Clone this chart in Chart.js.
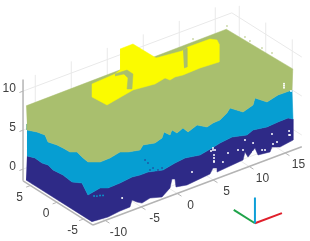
<!DOCTYPE html>
<html>
<head>
<meta charset="utf-8">
<style>
    html, body { margin: 0; padding: 0; background: #fff; }
    canvas { display: block; }
</style>
<script src="https://cdn.jsdelivr.net/npm/chart.js@4"></script>
</head>
<body>
<canvas id="cloudChart" width="310" height="241"></canvas>
<script>
// Tick labels of the three axes
const xTicks = [-10, -5, 0, 5, 10, 15];
const yTicks = [-5, 0, 5];
const zTicks = [0, 5, 10];

// Olive layer: lower edge on the side face (x = -12) and front face (y = -7)
const oliveSideY = [5.25, 5.25, 3.36, 1.85, 1.28, -0.42, -1.55, -2.87, -4.19, -5.13, -6.26];
const oliveSideZ = [6.39, 5.62, 6.17, 6.44, 5.78, 6.13, 6.23, 6.28, 6.85, 6.62, 6.46];
const oliveFrontX = [-10.87, -9.49, -8.1, -6.99, -5.32, -4.9, -3.24, -2.26, -1.99, -1.15, -0.88, -0.18, 0.65, 1.35, 2.6, 3.99, 4.82, 5.79, 6.76, 7.18, 8.99, 10.38, 10.65, 12.32, 13.85, 15.79];
const oliveFrontZ = [6.38, 6.42, 6.7, 6.32, 6.0, 6.5, 6.18, 6.49, 7.15, 6.49, 7.03, 6.4, 6.76, 6.0, 6.46, 5.73, 5.95, 6.0, 6.56, 7.06, 5.92, 6.33, 7.14, 6.05, 6.42, 6.38];
// Top surface corners
const topCornerX = [15.9, 15.8, -12];
const topCornerY = [-7, 5.4, 5.4];
const topCornerZ = [9.05, 8.85, 8.65];

// Navy layer: upper edge
const navyTopSideY = [5.25, 3.74, 2.42, 1.28, 0.34, -1.55, -3.25, -5.13, -6.26];
const navyTopSideZ = [2.29, 2.68, 2.6, 2.83, 2.6, 2.77, 2.6, 3.28, 2.23];
const navyTopFrontX = [-10.87, -9.76, -8.1, -6.43, -5.32, -4.21, -2.13, -0.46, 0.93, 3.01, 4.68, 5.79, 7.46, 9.54, 10.38, 12.32, 13.85, 15.24, 15.93];
const navyTopFrontZ = [3.05, 2.67, 2.73, 2.92, 2.79, 2.79, 2.33, 2.65, 2.81, 2.47, 2.79, 3.05, 3.24, 2.78, 3.13, 2.85, 2.96, 2.99, 2.61];
// Navy layer: lower edge
const navyLowSideY = [5.43];
const navyLowSideZ = [-0.88];
const navyLowFrontX = [-12, -9.76, -8.1, -6.71, -6.43, -5.74, -5.04, -3.93, -2.26, -1.15, -0.88, -0.46, -0.32, 1.21, 4.4, 4.82, 5.38, 5.38, 8.99, 9.26, 9.68, 10.65, 11.07, 12.74, 13.01, 14.12, 15.93];
const navyLowFrontZ = [-0.87, -1.05, -0.86, -0.82, -0.03, -0.53, -0.9, -0.64, -1.08, -0.31, 0.74, 0.6, -0.47, -0.74, -0.44, 0.18, -0.01, -0.53, -0.23, 0.69, -0.09, 0.73, -0.31, -0.5, 0.04, -0.35, -0.08];

// Yellow block, on the plane y = 5
const yellowX = [0.74, 2.54, 5.74, 9.35, 10.18, 13.24, 14.21, 14.49, 14.49, 11.85, 9.49, 8.38, 7.68, 6.99, 5.6, 2.54, -1.07, -3.15, -3.15, 0.04, 0.74];
const yellowZ = [11.7, 11.72, 8.82, 8.46, 8.69, 8.65, 8.19, 7.58, 5.27, 5.42, 5.34, 5.47, 5.32, 5.82, 5.53, 5.82, 5.15, 6.89, 8.56, 8.74, 9.01];
// Olive gaps seen through the yellow block
const hookX = [0.04, 1.71, 2.54, 2.4, 1.71, 1.85, 1.29, 0.04];
const hookZ = [8.74, 8.67, 7.87, 6.0, 6.24, 7.6, 8.3, 8.48];
const slitX = [9.49, 10.04, 10.04, 9.63];
const slitZ = [8.54, 8.61, 6.17, 6.19];

// Loose points
const holeX = [13.01, 9.26, 10.38, 13.15, 13.71, 15.51, 11.63, 12.04, 10.38, 8.99, 6.9, 5.1, 4.96, 1.9, 6.2, -7.8, 14.68, 14.68, 14.68, 15.65, 4.82, 4.82, 4.54, 4.96, 4.96, 4.96, 15.38, 15.38, 8.29];
const holeZ = [1.71, 2.23, 1.46, 0.37, 0.44, 0.72, 0.14, 0, 0.31, 1.05, 1.38, 2.4, 0.91, 0.68, 0.47, 0.7, 7.3, 7.56, 7.05, 6.3, 2.74, 2.49, 2.46, 1.81, 1.42, 1.04, 1.27, 0.76, 1.29];
const navySpeckX = [-4.21, -3.51, -2.82, -2.26, -3.93, -4.62];
const navySpeckZ = [3.95, 3.06, 2.58, 2.64, 2.95, 4.47];
const blueSpeckX = [-11.7, -11.3, -10.87, -10.45];
const blueSpeckZ = [2.31, 2.17, 2.09, 1.95];
const oliveSpeckX = [15.89, 11.17, 15.9, 15.9, 15.9, 15.9];
const oliveSpeckY = [5.4, 5.4, 2.02, 1.08, -1.19, -3.08];
const oliveSpeckZ = [9.23, 9.2, 9.27, 9.17, 9.24, 9.41];

// Orientation triad: origin and arm lengths
const triadOrigin = [2.4, -18.2, -1.25];
const triadLengths = [3.75, 4, 3.3];

// Axis box limits
const xMin = -11.7, xMax = 17.3;
const yMin = -6.8, yMax = 6.4;
const zMin = -1.5, zMax = 11.5;

// View projection of the 3D axes onto the flat chart plane
function project(x, y, z) {
    return {
        x: 141.2 + 7.2 * x - 5.3 * y,
        y: 159 - 2.7 * x - 3.35 * y - 7.8 * z
    };
}

function onFront(xs, zs) {
    return xs.map(function (x, i) { return project(x, -7, zs[i]); });
}

function onSide(ys, zs) {
    return ys.map(function (y, i) { return project(-12, y, zs[i]); });
}

function onPlane(xs, zs) {
    return xs.map(function (x, i) { return project(x, 5, zs[i]); });
}

function polygon(points, color) {
    return {
        data: points,
        showLine: true,
        fill: 'shape',
        backgroundColor: color,
        borderColor: color,
        borderWidth: 0.5,
        pointRadius: 0,
        tension: 0
    };
}

function segment(from, to, color, width) {
    return {
        data: [project(from[0], from[1], from[2]), project(to[0], to[1], to[2])],
        showLine: true,
        fill: false,
        borderColor: color,
        borderWidth: width,
        pointRadius: 0
    };
}

function dots(points, color, radius) {
    return {
        data: points,
        showLine: false,
        backgroundColor: color,
        borderWidth: 0,
        pointRadius: radius
    };
}

const gridColor = '#e9e9e9';
const axisColor = '#b4b4b4';
const oliveColor = '#a9bf6e';
const blueColor = '#069ed2';
const navyColor = '#2e2a87';
const yellowColor = '#fbfb00';

const oliveEdge = onSide(oliveSideY, oliveSideZ).concat(onFront(oliveFrontX, oliveFrontZ));
const navyTop = onSide(navyTopSideY, navyTopSideZ).concat(onFront(navyTopFrontX, navyTopFrontZ));
const navyLow = onSide(navyLowSideY, navyLowSideZ).concat(onFront(navyLowFrontX, navyLowFrontZ));
const topCorners = topCornerX.map(function (x, i) { return project(x, topCornerY[i], topCornerZ[i]); });

// Back to front
const layers = [];

xTicks.forEach(function (x) {
    layers.push(segment([x, yMax, zMin], [x, yMax, zMax], gridColor, 1));
    layers.push(segment([x, yMin, zMin], [x, yMax, zMin], gridColor, 1));
});
yTicks.forEach(function (y) {
    layers.push(segment([xMax, y, zMin], [xMax, y, zMax], gridColor, 1));
    layers.push(segment([xMin, y, zMin], [xMax, y, zMin], gridColor, 1));
});
zTicks.forEach(function (z) {
    layers.push(segment([xMin, yMax, z], [xMax, yMax, z], gridColor, 1));
    layers.push(segment([xMax, yMax, z], [xMax, yMin, z], gridColor, 1));
});

layers.push(segment([xMin, yMax, zMin], [xMin, yMax, zMax], axisColor, 1.5));
layers.push(segment([xMin, yMax, zMin], [xMin, yMin, zMin], axisColor, 1.5));
layers.push(segment([xMin, yMin, zMin], [xMax, yMin, zMin], axisColor, 1.5));
xTicks.forEach(function (x) {
    layers.push(segment([x, yMin, zMin], [x, yMin - 0.8, zMin], axisColor, 1));
});
yTicks.forEach(function (y) {
    layers.push(segment([xMin, y, zMin], [xMin - 0.6, y, zMin], axisColor, 1));
});
zTicks.forEach(function (z) {
    layers.push(segment([xMin, yMax, z], [xMin - 0.5, yMax, z], axisColor, 1));
});

layers.push(polygon(navyTop.concat(navyLow.slice().reverse()), navyColor));
layers.push(polygon(oliveEdge.concat(navyTop.slice().reverse()), blueColor));
layers.push(polygon(oliveEdge.concat(topCorners), oliveColor));
layers.push(dots(onFront(holeX, holeZ), '#ffffff', 1));
layers.push(dots(onFront(navySpeckX, navySpeckZ), navyColor, 0.8));
layers.push(dots(onFront(blueSpeckX, blueSpeckZ), blueColor, 0.9));
layers.push(dots(oliveSpeckX.map(function (x, i) { return project(x, oliveSpeckY[i], oliveSpeckZ[i]); }), oliveColor, 0.8));
layers.push(polygon(onPlane(yellowX, yellowZ), yellowColor));
layers.push(polygon(onPlane(hookX, hookZ), oliveColor));
layers.push(polygon(onPlane(slitX, slitZ), oliveColor));

const ox = triadOrigin[0], oy = triadOrigin[1], oz = triadOrigin[2];
layers.push(segment(triadOrigin, [ox + triadLengths[0], oy, oz], '#e01f2b', 2));
layers.push(segment(triadOrigin, [ox, oy + triadLengths[1], oz], '#1fa34a', 2));
layers.push(segment(triadOrigin, [ox, oy, oz + triadLengths[2]], '#0d9fd8', 2));

// Tick labels go through the same scales as the marks
const tickLabels = {
    id: 'tickLabels',
    afterDraw: function (chart) {
        const ctx = chart.ctx;
        const sx = chart.scales.x, sy = chart.scales.y;
        function put(point, text, align) {
            ctx.textAlign = align;
            ctx.fillText(text, sx.getPixelForValue(point.x), sy.getPixelForValue(point.y));
        }
        ctx.save();
        ctx.font = '12px "Liberation Sans", Arial, sans-serif';
        ctx.fillStyle = '#404040';
        ctx.textBaseline = 'middle';
        xTicks.forEach(function (x) {
            put(project(x, yMin - 2.5, zMin - 0.45), String(x), 'center');
        });
        yTicks.forEach(function (y) {
            put(project(xMin - 1.5, y, zMin - 1), String(y), 'center');
        });
        zTicks.forEach(function (z) {
            put(project(xMin - 1, yMax, z + 0.6), String(z), 'right');
        });
        ctx.restore();
    }
};

new Chart(document.getElementById('cloudChart'), {
    type: 'scatter',
    data: { datasets: layers.reverse() },
    options: {
        responsive: false,
        animation: false,
        layout: { padding: 0, autoPadding: false },
        scales: {
            x: { type: 'linear', display: false, min: 0, max: 310 },
            y: { type: 'linear', display: false, min: 0, max: 241, reverse: true }
        },
        plugins: {
            legend: { display: false },
            tooltip: { enabled: false }
        }
    },
    plugins: [tickLabels]
});
</script>
</body>
</html>
